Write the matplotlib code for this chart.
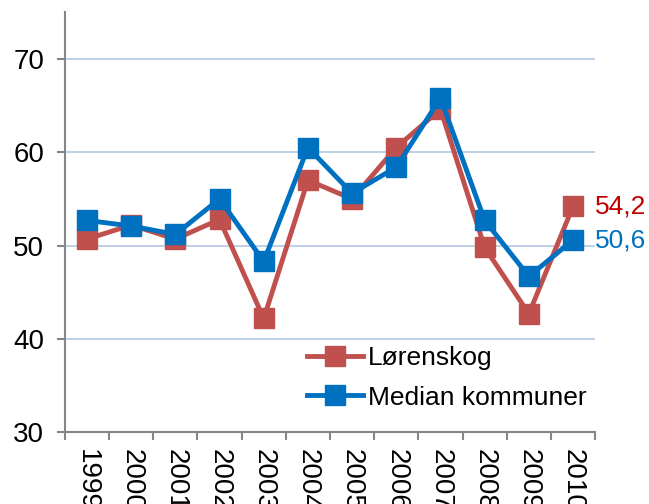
import numpy as np
import matplotlib
matplotlib.use('Agg')
import matplotlib.pyplot as plt

plt.rcParams['font.family'] = ['Liberation Sans', 'DejaVu Sans']

years = ['1999', '2000', '2001', '2002', '2003', '2004',
         '2005', '2006', '2007', '2008', '2009', '2010']
lorenskog = [50.7, 52.2, 50.7, 52.8, 42.2, 57.0, 55.0, 60.5, 64.6, 49.8, 42.7, 54.2]
median = [52.7, 52.1, 51.2, 55.0, 48.3, 60.5, 55.6, 58.4, 65.8, 52.7, 46.7, 50.6]

red = '#C0504D'
blue = '#0070C0'
grey = '#868686'

fig = plt.figure(figsize=(6.49, 5.04), dpi=100)
ax = fig.add_axes([0.100, 0.142, 0.817, 0.834])

x = np.arange(len(years))
ax.plot(x, lorenskog, color=red, linewidth=3.5, marker='s', markersize=14,
        label='Lørenskog', zorder=3)
ax.plot(x, median, color=blue, linewidth=3.5, marker='s', markersize=14,
        label='Median kommuner', zorder=4)

# end labels
ax.annotate('54,2', xy=(x[-1], lorenskog[-1]), xytext=(16, 0),
            textcoords='offset points', ha='left', va='center',
            fontsize=19, color='#C00000')
ax.annotate('50,6', xy=(x[-1], median[-1]), xytext=(16, 0),
            textcoords='offset points', ha='left', va='center',
            fontsize=19, color=blue)

ax.set_xlim(-0.5, len(years) - 0.5)
ax.set_ylim(30, 75)
ax.set_yticks([30, 40, 50, 60, 70])
ax.yaxis.grid(True, color='#B9CDE5', linewidth=1.3)
ax.set_axisbelow(True)

ax.set_xticks(x)
ax.set_xticklabels(years, rotation=270, fontsize=20)
ax.set_xticks(np.arange(-0.5, len(years)), minor=True)
ax.tick_params(axis='x', which='major', length=0, pad=12)
ax.tick_params(axis='x', which='minor', length=6, width=1.5, color=grey,
               direction='out')
ax.tick_params(axis='y', length=6, width=1.5, color=grey, pad=9, labelsize=20)

for side in ['top', 'right']:
    ax.spines[side].set_visible(False)
for side in ['left', 'bottom']:
    ax.spines[side].set_color(grey)
    ax.spines[side].set_linewidth(1.5)

ax.legend(loc='center left', bbox_to_anchor=(0.457, 0.130), frameon=False,
          fontsize=19, handlelength=2.1, handletextpad=0.2, borderpad=0,
          borderaxespad=0, labelspacing=0.6)

fig.savefig('out.png', dpi=100)
